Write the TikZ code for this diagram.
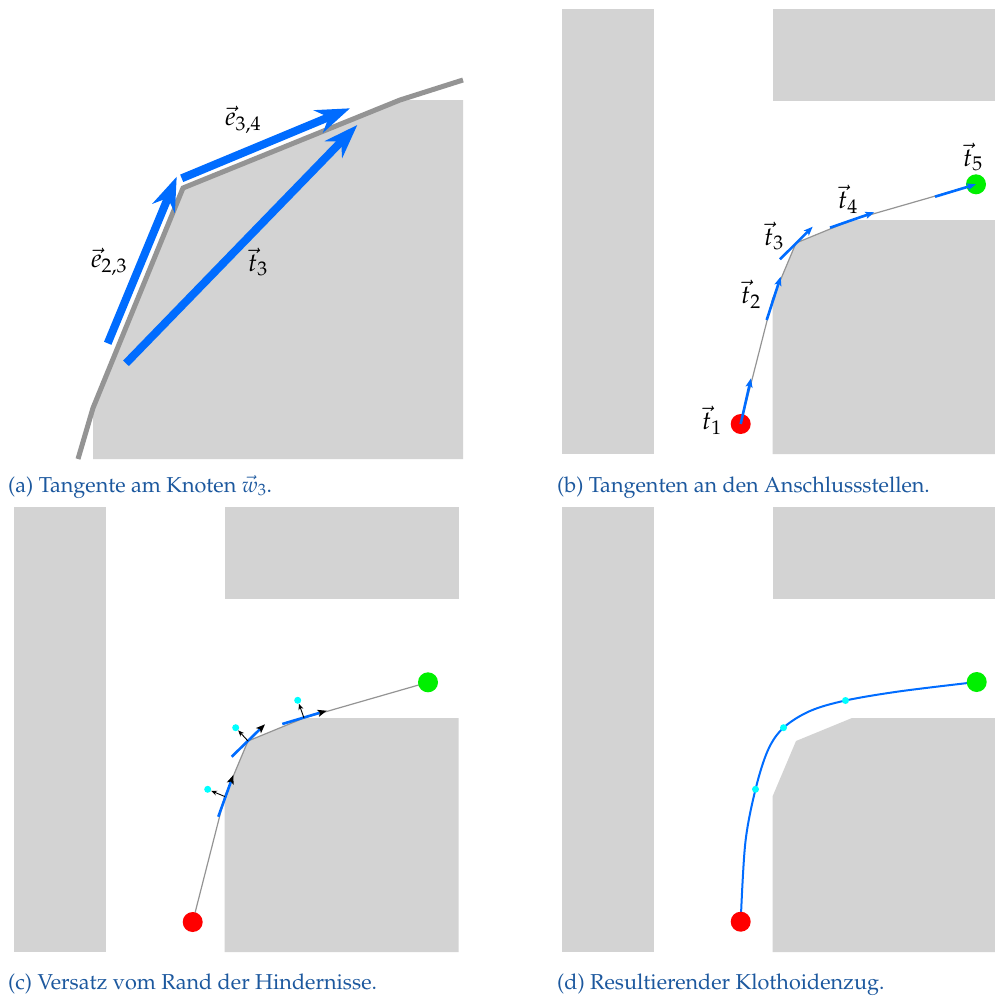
\documentclass[tikz,border=0pt]{standalone}
\usepackage[T1]{fontenc}
\usepackage{mathpazo}
\usetikzlibrary{arrows.meta}
\definecolor{obst}{RGB}{211,211,211}
\definecolor{tblue}{RGB}{0,108,255}
\definecolor{pgray}{RGB}{148,148,148}
\definecolor{capblue}{RGB}{28,88,158}
\definecolor{dotred}{RGB}{255,0,0}
\definecolor{dotgreen}{RGB}{0,240,0}
\definecolor{dotcyan}{RGB}{0,255,255}
\tikzset{
  obstfill/.style={fill=obst},
  bigarrow/.style={tblue, line width=8pt, -{Stealth[length=34pt,width=24pt,inset=11pt]}},
  thickpath/.style={pgray, line width=5pt},
  thinpath/.style={pgray, line width=1.2pt},
  tangb/.style={tblue, line width=2.6pt, -{Stealth[length=9pt,width=7pt,inset=2pt]}},
  tangc/.style={tblue, line width=2.6pt, -{Stealth[length=9pt,width=7pt,inset=2pt,color=black]}},
  normalarrow/.style={black, line width=0.9pt, -{Stealth[length=6pt,width=5pt]}},
  startdot/.style={fill=dotred, circle, inner sep=0pt, minimum size=20pt},
  enddot/.style={fill=dotgreen, circle, inner sep=0pt, minimum size=20pt},
  offdot/.style={fill=dotcyan, circle, inner sep=0pt, minimum size=7pt},
  caption/.style={anchor=base west, inner sep=0pt, text=capblue, font=\fontsize{21.6}{26}\selectfont},
  vlabel/.style={inner sep=0pt, font=\fontsize{26}{30}\selectfont},
}
% obstacles; #1 = right edge of the field
\newcommand{\obstacles}[1]{%
  \fill[obstfill] (562,9) rectangle (654,454);
  \fill[obstfill] (772.5,9) rectangle (#1,100.7);
  \fill[obstfill] (772.5,454) -- (772.5,298.5) -- (796,243) -- (852,220) -- (#1,220) -- (#1,454) -- cycle;
}
\begin{document}
\begin{tikzpicture}[x=1pt,y=-1pt]
\useasboundingbox (0,0) rectangle (995,999);

% ---------- panel (a)
\fill[obstfill] (93,459) -- (93,408) -- (183,188) -- (400,100) -- (463,100) -- (463,459) -- cycle;
\coordinate (a0) at (78,459);
\coordinate (a1) at (93,408);
\coordinate (a2) at (183,188);
\coordinate (a3) at (400,100);
\coordinate (a4) at (463,80);
\draw[thickpath] (a0) -- (a1) -- (a2) -- (a3) -- (a4);
\coordinate (e23s) at (107.7,343.3);
\coordinate (e23e) at (176.7,176.7);
\coordinate (e34s) at (181.7,178.3);
\coordinate (e34e) at (350,108.3);
\coordinate (t3s) at (126,363.3);
\coordinate (t3e) at (357.3,125);
\draw[bigarrow] (e23s) -- (e23e);
\draw[white, line width=11pt, shorten >=30pt, shorten <=-1pt] (e34s) -- (e34e);
\draw[bigarrow] (e34s) -- (e34e);
\draw[bigarrow] (t3s) -- (t3e);
\node[vlabel] (le23) at (109,262) {$\vec{e}_{2,3}$};
\node[vlabel] (le34) at (243,120) {$\vec{e}_{3,4}$};
\node[vlabel] (lt3a) at (258,262) {$\vec{t}_{3}$};
\node[caption] (capa) at (8,492) {(a) Tangente am Knoten $\vec{w}_3$.};

% ---------- panel (b)
\begin{scope}
\obstacles{995}
\coordinate (b1) at (740.7,424);
\coordinate (b2) at (772.7,298.5);
\coordinate (b3) at (796,243);
\coordinate (b4) at (852,220);
\coordinate (b5) at (976,184.3);
\draw[thinpath] (b1) -- (b2) -- (b3) -- (b4) -- (b5);
\node[startdot] (bred) at (b1) {};
\node[enddot] (bgreen) at (b5) {};
\coordinate (bt1s) at (740.7,424);   \coordinate (bt1e) at (751,378.3);
\coordinate (bt2s) at (766.7,320);   \coordinate (bt2e) at (780.7,276.7);
\coordinate (bt3s) at (780,259.3);   \coordinate (bt3e) at (812.7,226.7);
\coordinate (bt4s) at (830,227.7);   \coordinate (bt4e) at (874.3,212.3);
\coordinate (bt5s) at (935,196.7);   \coordinate (bt5e) at (976,184.3);
\draw[tangb] (bt1s) -- (bt1e);
\draw[tangb] (bt2s) -- (bt2e);
\draw[tangb] (bt3s) -- (bt3e);
\draw[tangb] (bt4s) -- (bt4e);
\draw[tangb] (bt5s) -- (bt5e);
\node[vlabel] (lt1) at (712,420) {$\vec{t}_1$};
\node[vlabel] (lt2) at (751,294) {$\vec{t}_2$};
\node[vlabel] (lt3) at (774,236) {$\vec{t}_3$};
\node[vlabel] (lt4) at (848,199) {$\vec{t}_4$};
\node[vlabel] (lt5) at (973,157) {$\vec{t}_5$};
\end{scope}
\node[caption] (capb) at (557,492) {(b) Tangenten an den Anschlussstellen.};

% ---------- panel (c)
\begin{scope}[xshift=-548pt, yshift=-498pt]
\obstacles{1006.5}
\coordinate (c1) at (740.7,424);
\coordinate (c2) at (772.7,298.5);
\coordinate (c3) at (796,243);
\coordinate (c4) at (852,220);
\coordinate (c5) at (976,184.3);
\draw[thinpath] (c1) -- (c2) -- (c3) -- (c4) -- (c5);
\node[startdot] (cred) at (c1) {};
\node[enddot] (cgreen) at (c5) {};
\coordinate (ct2s) at (766.3,318.7);   \coordinate (ct2e) at (781.3,277);
\coordinate (ct3s) at (779.7,258.7);   \coordinate (ct3e) at (813,226.3);
\coordinate (ct4s) at (830.3,226);     \coordinate (ct4e) at (874.7,212.7);
\draw[tangc] (ct2s) -- (ct2e);
\draw[tangc] (ct3s) -- (ct3e);
\draw[tangc] (ct4s) -- (ct4e);
\node[offdot] (co2) at (755.7,291.3) {};
\node[offdot] (co3) at (783.7,229.7) {};
\node[offdot] (co4) at (845.7,202.3) {};
\draw[normalarrow] (c2) -- (co2);
\draw[normalarrow] (c3) -- (co3);
\draw[normalarrow] (c4) -- (co4);
\end{scope}
\node[caption] (capc) at (8,989) {(c) Versatz vom Rand der Hindernisse.};

% ---------- panel (d)
\begin{scope}[yshift=-498pt]
\obstacles{995}
\draw[tblue, line width=2pt] plot[smooth, tension=0.55] coordinates {(740.7,423.7) (745.3,345) (755.5,291.3) (768,252) (783.5,229.7) (810,213) (845.5,202.5) (900,193.3) (976.5,184)};
\node[startdot] (dred) at (740.7,423.7) {};
\node[enddot] (dgreen) at (976.7,184) {};
\node[offdot] (do2) at (755.5,291.3) {};
\node[offdot] (do3) at (783.5,229.7) {};
\node[offdot] (do4) at (845.5,202.5) {};
\end{scope}
\node[caption] (capd) at (557,989) {(d) Resultierender Klothoidenzug.};
\end{tikzpicture}
\end{document}
